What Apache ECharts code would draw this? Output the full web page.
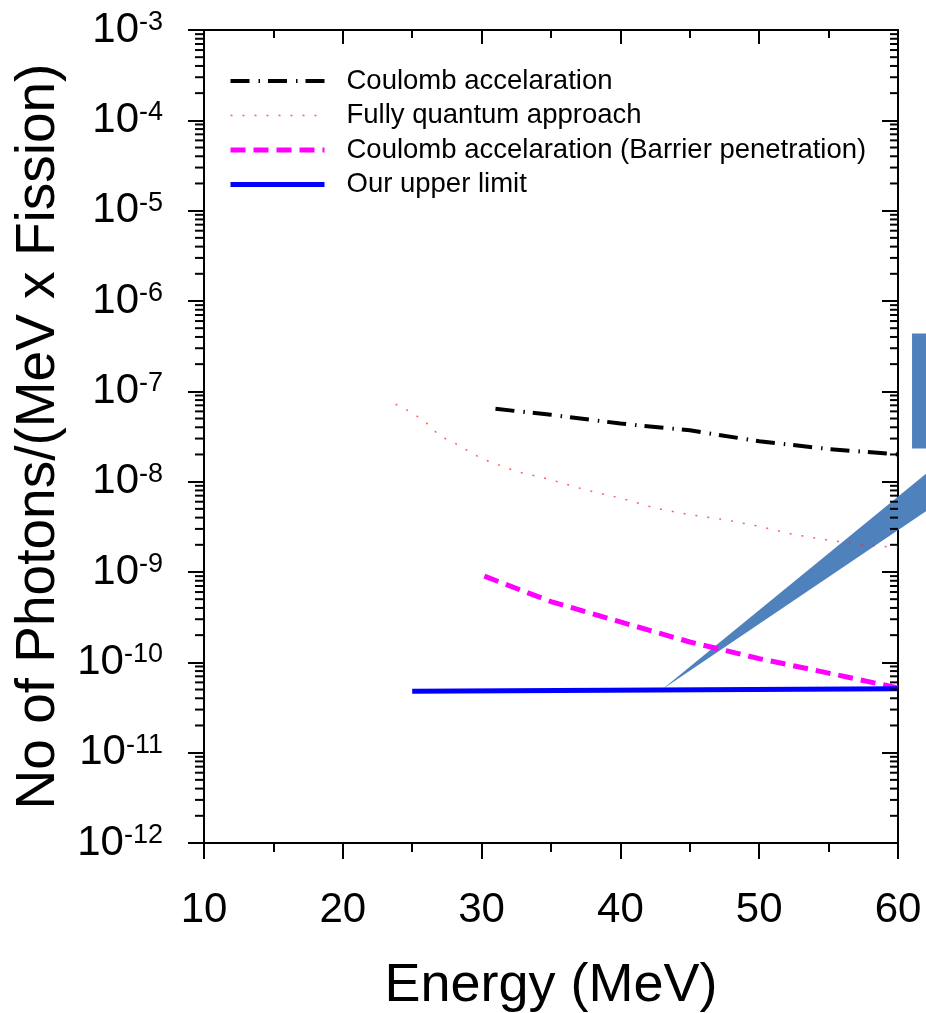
<!DOCTYPE html>
<html>
<head>
<meta charset="utf-8">
<script src="https://cdn.jsdelivr.net/npm/echarts@6/dist/echarts.min.js"></script>
<style>
  html, body { margin: 0; padding: 0; background: #fff; }
  #chart { width: 926px; height: 1013px; }
</style>
</head>
<body>
<div id="chart"></div>
<script>
// ---- data ----
const coulombE = [31, 35, 40, 45, 50, 55, 60];
const coulombY = [6.4e-8, 5.5e-8, 4.4e-8, 3.7e-8, 2.8e-8, 2.3e-8, 2.0e-8];

const quantumE = [23.8, 25, 26, 27, 28, 30, 32.5, 35, 37.5, 40, 42.5, 45, 47.5, 50, 52.5, 55, 57.5, 60];
const quantumY = [7.2e-8, 5.8e-8, 4.5e-8, 3.2e-8, 2.7e-8, 1.8e-8, 1.3e-8, 1.05e-8, 8.1e-9, 6.6e-9,
                  5.1e-9, 4.3e-9, 3.8e-9, 3.2e-9, 2.6e-9, 2.25e-9, 2.0e-9, 1.86e-9];

const barrierE = [30.2, 35, 40, 45, 50, 55, 60];
const barrierY = [9.0e-10, 4.7e-10, 2.8e-10, 1.68e-10, 1.1e-10, 7.6e-11, 5.2e-11];

const limitE = [25, 60];
const limitY = [4.8e-11, 5.1e-11];

// callout pointer tip (on the upper limit line)
const calloutTip = [43, 5.0e-11];

const seriesNames = [
    "Coulomb accelaration",
    "Fully quantum approach",
    "Coulomb accelaration (Barrier penetration)",
    "Our upper limit"
];

// log axis minor ticks (2..9 in each decade)
const decades = [-12, -11, -10, -9, -8, -7, -6, -5, -4];
const minorSteps = [2, 3, 4, 5, 6, 7, 8, 9];

const FONT = "Liberation Sans, Arial, sans-serif";

// line styles (shared by series and legend)
const styleCoulomb = { color: "#000", width: 4, type: [19, 9, 1.5, 8], cap: "butt" };
const styleQuantum = { color: "rgba(255,40,40,0.75)", width: 1.5, type: [2, 10] };
const styleBarrier = { color: "#ff00ff", width: 5, type: [15, 8], cap: "butt" };
const styleLimit = { color: "#0000ff", width: 5 };

function pairs(xs, ys) {
    return xs.map((x, i) => [x, ys[i]]);
}

const minorTickData = [];
decades.forEach(p => minorSteps.forEach(k => minorTickData.push([10, k * Math.pow(10, p)])));

const chart = echarts.init(document.getElementById("chart"));

const logAxisBase = {
    type: "log",
    logBase: 10,
    min: 1e-12,
    max: 1e-3,
    splitNumber: 9,
    splitLine: { show: false },
    axisLine: { show: true, onZero: false, lineStyle: { color: "#000", width: 2 } }
};

chart.setOption({
    animation: false,
    backgroundColor: "#fff",
    grid: { left: 204, right: 28, top: 30, bottom: 170, outerBoundsMode: "none" },
    legend: {
        orient: "vertical",
        left: 228,
        top: 67,
        padding: 0,
        itemWidth: 94,
        itemHeight: 14,
        itemGap: 6.5,
        itemStyle: { opacity: 0 },
        data: [
            { name: seriesNames[0], lineStyle: styleCoulomb },
            { name: seriesNames[1], lineStyle: styleQuantum },
            { name: seriesNames[2], lineStyle: styleBarrier },
            { name: seriesNames[3], lineStyle: styleLimit }
        ],
        textStyle: { fontFamily: FONT, fontSize: 27.5, color: "#000", padding: [0, 0, 0, 17] }
    },
    xAxis: [
        {
            type: "value",
            min: 10,
            max: 60,
            interval: 10,
            name: "Energy (MeV)",
            nameLocation: "middle",
            nameGap: 116,
            nameTextStyle: { fontFamily: FONT, fontSize: 54, color: "#000" },
            axisLine: { onZero: false, lineStyle: { color: "#000", width: 2 } },
            axisTick: { length: 16, lineStyle: { width: 2, color: "#000" } },
            minorTick: { show: true, splitNumber: 2, length: 9, lineStyle: { width: 2, color: "#000" } },
            axisLabel: { margin: 46, fontFamily: FONT, fontSize: 42, color: "#000" },
            splitLine: { show: false }
        },
        {
            type: "value",
            position: "top",
            min: 10,
            max: 60,
            interval: 10,
            axisLine: { onZero: false, lineStyle: { color: "#000", width: 2 } },
            axisTick: { inside: true, length: 14, lineStyle: { width: 2, color: "#000" } },
            minorTick: { show: true, splitNumber: 2, length: 8, lineStyle: { width: 2, color: "#000" } },
            axisLabel: { show: false },
            splitLine: { show: false }
        }
    ],
    yAxis: [
        Object.assign({}, logAxisBase, {
            position: "left",
            name: "No of Photons/(MeV x Fission)",
            nameLocation: "middle",
            nameGap: 132,
            nameTextStyle: { fontFamily: FONT, fontSize: 55, color: "#000" },
            axisTick: { length: 16, lineStyle: { width: 2, color: "#000" } },
            axisLabel: {
                margin: 41,
                formatter: function (v) {
                    return "{b|10}{s|" + Math.round(Math.log10(v)) + "}";
                },
                rich: {
                    b: { fontFamily: FONT, fontSize: 42, color: "#000" },
                    s: { fontFamily: FONT, fontSize: 27, color: "#000", verticalAlign: "top" }
                }
            }
        }),
        Object.assign({}, logAxisBase, {
            position: "right",
            axisTick: { inside: true, length: 16, lineStyle: { width: 2, color: "#000" } },
            axisLabel: { show: false }
        })
    ],
    series: [
        {
            name: seriesNames[0],
            type: "line",
            data: pairs(coulombE, coulombY),
            symbol: "none",
            color: "#000",
            lineStyle: styleCoulomb,
            z: 3
        },
        {
            name: seriesNames[1],
            type: "line",
            data: pairs(quantumE, quantumY),
            symbol: "none",
            color: "#ff4040",
            lineStyle: styleQuantum,
            z: 3
        },
        {
            // blue callout pointing at the upper limit line
            name: "callout",
            type: "custom",
            silent: true,
            clip: false,
            data: [calloutTip],
            renderItem: function (params, api) {
                const p = api.coord([api.value(0), api.value(1)]);
                return {
                    type: "group",
                    children: [
                        {
                            type: "polygon",
                            shape: { points: [[p[0], p[1]], [p[0] + 290, p[1] - 237], [p[0] + 290, p[1] - 196]] },
                            style: { fill: "#4f81bd" }
                        },
                        {
                            type: "rect",
                            shape: { x: p[0] + 250, y: p[1] - 356, width: 40, height: 115 },
                            style: { fill: "#4f81bd" }
                        }
                    ]
                };
            },
            z: 3
        },
        {
            name: seriesNames[2],
            type: "line",
            data: pairs(barrierE, barrierY),
            symbol: "none",
            color: "#ff00ff",
            lineStyle: styleBarrier,
            z: 3
        },
        {
            name: seriesNames[3],
            type: "line",
            data: pairs(limitE, limitY),
            symbol: "none",
            color: "#0000ff",
            lineStyle: styleLimit,
            z: 3
        },
        {
            // minor ticks for both log axes
            name: "minorTicks",
            type: "custom",
            silent: true,
            clip: false,
            data: minorTickData,
            renderItem: function (params, api) {
                const l = api.coord([10, api.value(1)]);
                const r = api.coord([60, api.value(1)]);
                const st = { stroke: "#000", lineWidth: 2 };
                return {
                    type: "group",
                    children: [
                        { type: "line", shape: { x1: l[0] - 9, y1: l[1], x2: l[0], y2: l[1] }, style: st },
                        { type: "line", shape: { x1: r[0] - 8, y1: r[1], x2: r[0], y2: r[1] }, style: st }
                    ]
                };
            },
            z: 4
        }
    ]
});
</script>
</body>
</html>
